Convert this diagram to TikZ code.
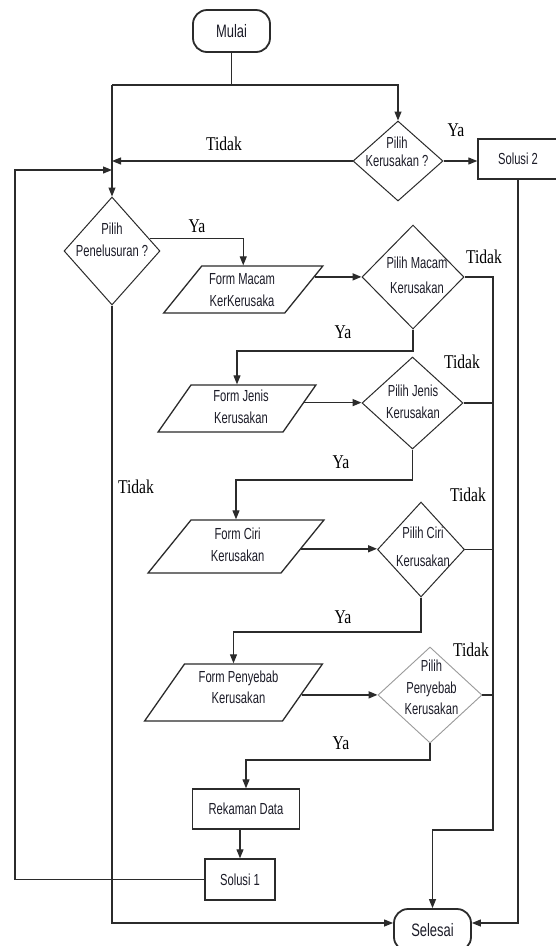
\documentclass[tikz,border=0pt]{standalone}
\usepackage{fontspec}
\setmainfont{Liberation Sans}
\newfontfamily\nodefont[FakeStretch=0.7]{Liberation Sans}
\newfontfamily\termfont[FakeStretch=0.72]{Liberation Sans}
\newfontfamily\lblfont[FakeStretch=0.8]{Liberation Serif}
\usetikzlibrary{shapes.geometric,arrows.meta}
\definecolor{linec}{HTML}{2B2B2B}
\definecolor{txtc}{HTML}{1C1C28}
\definecolor{grayc}{HTML}{9A9A9A}
\begin{document}
\begin{tikzpicture}[x=1pt,y=-1pt,
  line/.style={draw=linec,line width=1.1pt},
  arr/.style={line,-{Triangle[length=9pt,width=7pt]}},
  farr/.style={arr,line width=1.6pt},
  term/.style={draw=linec,line width=1.8pt,rounded corners=14pt,minimum width=77pt,minimum height=42pt,inner sep=0pt,text=txtc,font=\termfont\fontsize{18}{20}\selectfont},
  proc/.style={draw=linec,line width=1.4pt,inner sep=0pt,text=txtc,font=\nodefont\fontsize{16}{21.7}\selectfont},
  dec/.style={diamond,draw=linec,line width=1pt,inner sep=0pt},
  io/.style={trapezium,draw=linec,line width=1.3pt,inner sep=0pt},
  txt/.style={inner sep=0pt,align=center,text=txtc,font=\nodefont\fontsize{16}{21.7}\selectfont},
  lbl/.style={inner sep=0pt,text=black,font=\lblfont\fontsize{19.5}{22}\selectfont}
]
\path[fill=white] (0,0) rectangle (556,946);
\useasboundingbox (0,0) rectangle (556,946);

% terminals and processes
\node[term] (mulai) at (231.5,31) {Mulai};
\node[term] (sel) at (432.5,930) {Selesai};
\node[proc,minimum width=80pt,minimum height=40pt] (sol2) at (518,159) {Solusi 2};
\node[proc,minimum width=107pt,minimum height=40pt] (rd) at (246,809) {Rekaman Data};
\node[proc,minimum width=70pt,minimum height=41pt] (s1) at (240,879.5) {Solusi 1};

% decisions
\node[dec,minimum width=90pt,minimum height=80pt] (pk) at (398,161) {};
\node[dec,minimum width=96pt,minimum height=108pt] (pp) at (112,251) {};
\node[dec,minimum width=102pt,minimum height=104pt] (dm) at (413,277) {};
\node[dec,minimum width=101pt,minimum height=92pt] (jd) at (412.5,403) {};
\node[dec,minimum width=87pt,minimum height=95pt] (cd) at (421,549.5) {};
\node[dec,draw=grayc,line width=0.9pt,minimum width=104pt,minimum height=96pt] (penD) at (430,695) {};

% input/output forms
\node[io,trapezium left angle=51,trapezium right angle=129,inner xsep=41.5pt,inner ysep=23.5pt] (fm) at (243.25,289.5) {};
\node[io,trapezium left angle=55,trapezium right angle=125,inner xsep=46pt,inner ysep=23.5pt] (fj) at (237,408.5) {};
\node[io,trapezium left angle=51,trapezium right angle=129,inner xsep=45pt,inner ysep=26.5pt] (fc) at (236,546.5) {};
\node[io,trapezium left angle=55,trapezium right angle=125,inner xsep=49pt,inner ysep=28.5pt] (fpen) at (233.5,692.5) {};

% texts inside shapes
\node[txt,font=\nodefont\fontsize{16}{18}\selectfont] (pkT) at (397,152) {Pilih\\Kerusakan ?};
\node[txt] (ppT) at (112,240) {Pilih\\Penelusuran ?};
\node[txt] (fmT) at (242,290) {Form Macam\\KerKerusaka};
\node[txt,font=\nodefont\fontsize{16}{25}\selectfont] (dmT) at (417,275) {Pilih Macam\\Kerusakan};
\node[txt] (fjT) at (241,406.5) {Form Jenis\\Kerusakan};
\node[txt] (jdT) at (413,401.5) {Pilih Jenis\\Kerusakan};
\node[txt] (fcT) at (237.6,545) {Form Ciri\\Kerusakan};
\node[txt,font=\nodefont\fontsize{16}{28}\selectfont] (cdT) at (423,546.7) {Pilih Ciri\\Kerusakan};
\node[txt] (fpT) at (238.5,687.4) {Form Penyebab\\Kerusakan};
\node[txt] (penT) at (431.5,687.5) {Pilih\\Penyebab\\Kerusakan};

% helper coordinates
\coordinate (split) at (233,85);
\coordinate (lp) at (15,170);
\coordinate (rbus) at (493,830);

% connectors
\draw[line] (mulai.south) -- (mulai.south |- split);
\draw[arr] (split -| pp.north) -- (pp.north);
\draw[arr] (split -| pp.north) -| (pk.north);
\draw[arr] (pk.west) -- (pk.west -| pp.north);
\draw[arr] (pk.east) -- (pk.east -| sol2.west);
\draw[arr] (sol2.south) |- ([yshift=7pt]sel.east);
\draw[arr] (s1.west) -| (lp) -- (lp -| pp.north);
\draw[arr] (pp.18) -| (fm.north -| fm.center);
\draw[arr] (pp.south) |- ([yshift=7pt]sel.west);

\draw[farr] (fm.10) -- (fm.10 -| dm.west);
\draw[arr] (dm.east) -| (rbus) -| (sel.north);
\draw[arr] (dm.south) -- (dm.south |- 0,351) -| (fj.north -| fj.center);

\draw[farr] (fj.5) -- (fj.5 -| jd.west);
\draw[line] (jd.east) -- (jd.east -| rbus);
\draw[arr] (jd.south) -- (jd.south |- 0,480) -| (fc.north -| fc.center);

\draw[farr] (fc.358) -- (fc.358 -| cd.west);
\draw[line] (cd.east) -- (cd.east -| rbus);
\draw[arr] (cd.south) -- (cd.south |- 0,632) -| (fpen.north -| fpen.center);

\draw[farr] (fpen.358) -- (fpen.358 -| penD.west);
\draw[line] (penD.east) -- (penD.east -| rbus);
\draw[arr] (penD.south) -- (penD.south |- 0,760) -| (rd.north);
\draw[arr] (s1.north |- rd.south) -- (s1.north);

% branch labels
\node[lbl] (l1) at (224,144) {Tidak};
\node[lbl] (l2) at (456,130) {Ya};
\node[lbl] (l3) at (197,226) {Ya};
\node[lbl] (l4) at (484,257) {Tidak};
\node[lbl] (l5) at (343,332) {Ya};
\node[lbl] (l6) at (462,362) {Tidak};
\node[lbl] (l7) at (341,462) {Ya};
\node[lbl] (l8) at (468,495) {Tidak};
\node[lbl] (l9) at (343,617) {Ya};
\node[lbl] (l10) at (471,650) {Tidak};
\node[lbl] (l11) at (341,743) {Ya};
\node[lbl] (l12) at (136,487) {Tidak};
\end{tikzpicture}
\end{document}
